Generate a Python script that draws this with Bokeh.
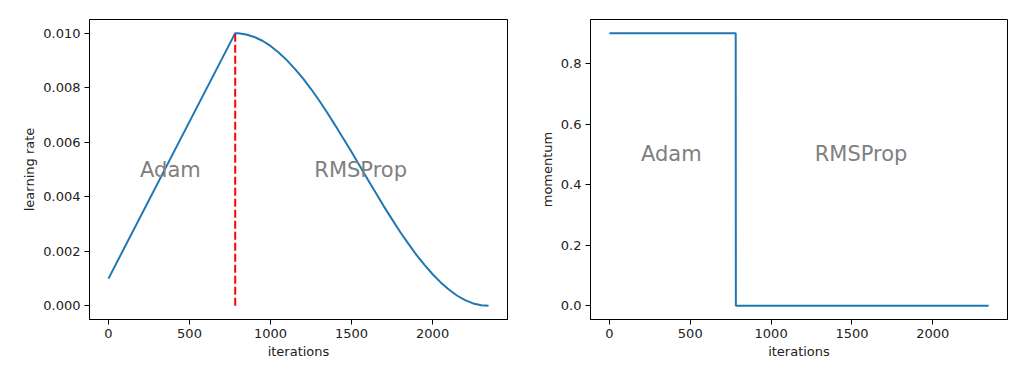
from bokeh.plotting import figure
from bokeh.layouts import row
from bokeh.models import Range1d, FixedTicker, NumeralTickFormatter
from bokeh.core.properties import value
from bokeh.embed import file_html
from bokeh.resources import INLINE

# ---- data ----
lr_x = [0, 782, 800, 850, 900, 950, 1000, 1050, 1100, 1150, 1200, 1250, 1300,
        1350, 1400, 1450, 1500, 1550, 1600, 1650, 1700, 1750, 1800, 1850, 1900,
        1950, 2000, 2050, 2100, 2150, 2200, 2250, 2300, 2345]
lr_y = [0.0010, 0.0100, 0.009997, 0.00995, 0.00986, 0.00972, 0.00953, 0.00929,
        0.00901, 0.00869, 0.00834, 0.00795, 0.00753, 0.00708, 0.00661, 0.00613,
        0.00564, 0.00514, 0.00463, 0.00414, 0.00364, 0.00317, 0.00271, 0.00228,
        0.00187, 0.00150, 0.00116, 0.00086, 0.00060, 0.00038, 0.00021, 0.00009,
        0.00002, 0.0]
switch_x = [782, 782]
switch_y = [0.0, 0.0100]
mom_x = [0, 781, 782, 2345]
mom_y = [0.9, 0.9, 0.0, 0.0]
x_ticks = [0, 500, 1000, 1500, 2000]
lr_ticks = [0.000, 0.002, 0.004, 0.006, 0.008, 0.010]
mom_ticks = [0.0, 0.2, 0.4, 0.6, 0.8]
phase_names = ["Adam", "RMSProp"]
phase_x = [195, 1270]
lr_phase_y = [0.005, 0.005]
mom_phase_y = [0.5, 0.5]

FONT = "DejaVu Sans"
BLUE = "#1f77b4"


def style(p, xlabel, ylabel, yticks, yfmt):
    p.outline_line_color = "black"
    p.outline_line_width = 1
    p.xgrid.visible = False
    p.ygrid.visible = False
    p.xaxis.ticker = FixedTicker(ticks=x_ticks)
    p.yaxis.ticker = FixedTicker(ticks=yticks)
    p.yaxis.formatter = NumeralTickFormatter(format=yfmt)
    for ax in (p.xaxis[0], p.yaxis[0]):
        ax.minor_tick_line_color = None
        ax.major_tick_in = 0
        ax.major_tick_out = 5
        ax.major_tick_line_color = "black"
        ax.axis_line_color = "black"
        ax.major_label_text_font = FONT
        ax.major_label_text_font_size = "13px"
        ax.major_label_text_color = "#222222"
        ax.major_label_standoff = 4
        ax.axis_label_text_font = FONT
        ax.axis_label_text_font_size = "13px"
        ax.axis_label_text_font_style = "normal"
        ax.axis_label_text_color = "#222222"
        ax.axis_label_standoff = 3
    p.xaxis.axis_label = xlabel
    p.yaxis.axis_label = ylabel


p1 = figure(frame_width=418, frame_height=300, output_backend="svg",
            toolbar_location=None,
            x_range=Range1d(-117, 2462), y_range=Range1d(-0.0005, 0.0105),
            min_border_left=89, min_border_right=29,
            min_border_top=19, min_border_bottom=45)
style(p1, "iterations", "learning rate", lr_ticks, "0.000")
p1.line(lr_x, lr_y, line_color=BLUE, line_width=2)
p1.line(switch_x, switch_y, line_color="red", line_width=2, line_dash="8 3")
p1.text(phase_x, lr_phase_y, text=phase_names, text_font=value(FONT),
        text_font_size="21px", text_color="#808080",
        text_align="left", text_baseline="middle")

p2 = figure(frame_width=417, frame_height=300, output_backend="svg",
            toolbar_location=None,
            x_range=Range1d(-117, 2462), y_range=Range1d(-0.045, 0.945),
            min_border_left=43, min_border_right=13,
            min_border_top=19, min_border_bottom=45)
style(p2, "iterations", "momentum", mom_ticks, "0.0")
p2.line(mom_x, mom_y, line_color=BLUE, line_width=2)
p2.text(phase_x, mom_phase_y, text=phase_names, text_font=value(FONT),
        text_font_size="21px", text_color="#808080",
        text_align="left", text_baseline="middle")

layout = row(p1, p2)
open("out.html", "w").write(file_html(layout, INLINE))
